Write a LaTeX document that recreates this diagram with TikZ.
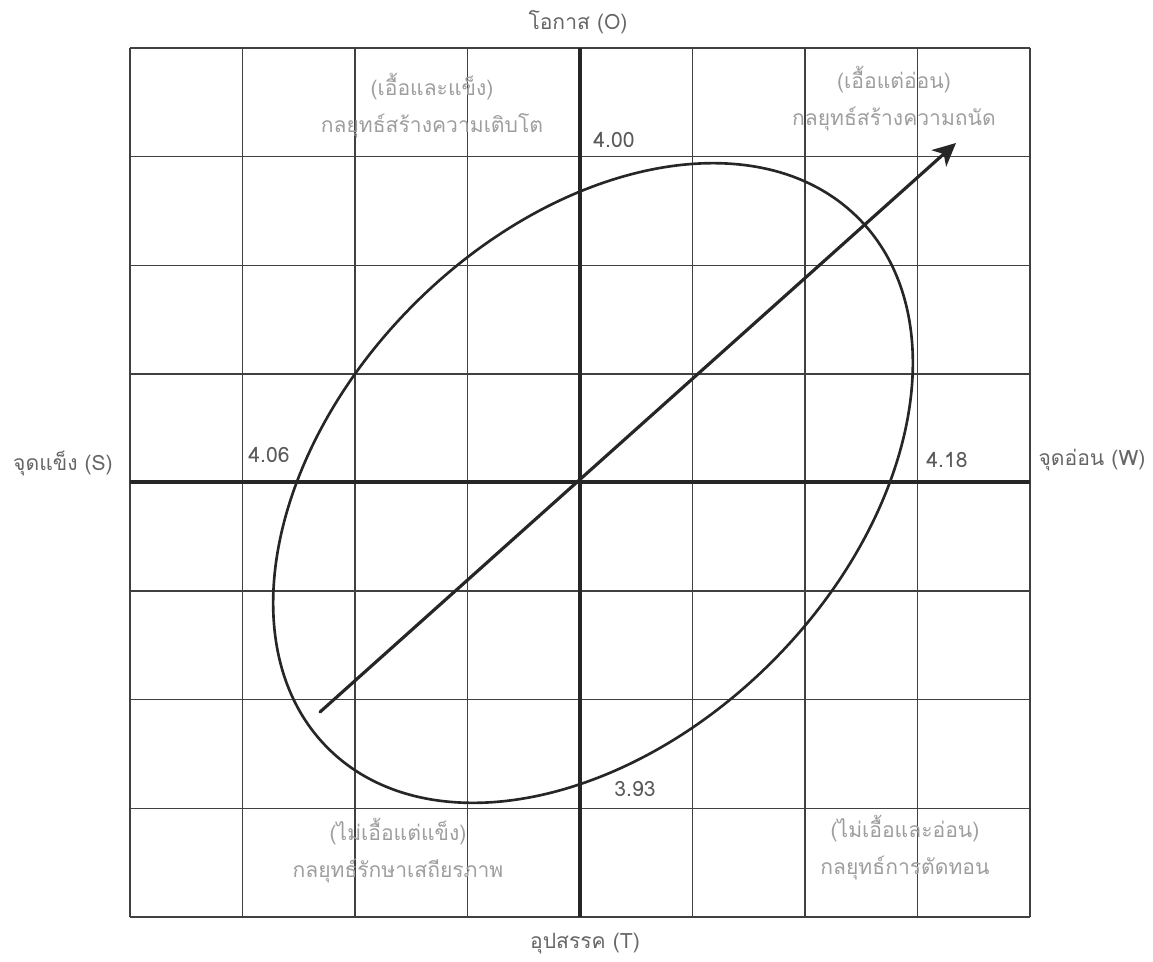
\documentclass[tikz,border=0pt]{standalone}
\usepackage{fontspec}
\setmainfont{Loma}[Script=Thai]
\usetikzlibrary{arrows.meta}

\begin{document}
\begin{tikzpicture}[
    x=0.02cm, y=-0.02cm,
    % --- Styles ---
    grid line/.style={draw=black!75, line width=0.8pt},
    % Thick axes through the middle
    axis line/.style={draw=black!85, line width=2.2pt},
    axis label/.style={font=\fontsize{12}{14}\selectfont, text=black!60, anchor=center},
    % Light grey strategy texts
    quad label/.style={font=\fontsize{12}{21}\selectfont, text=black!38, align=center, anchor=center},
    value label/.style={font=\fontsize{12}{14}\selectfont, text=black!65, anchor=center},
    curve line/.style={draw=black!85, line width=1.5pt},
    trend arrow/.style={draw=black!85, line width=1.8pt, line cap=round,
        -{Stealth[length=0.46cm, width=0.44cm, inset=0.13cm]}}
]

%================CONFIGURATION================
\def\ncells{8}

% Grid geometry (pixels of the page)
% \gx, \gy: top left corner
% \cw, \ch: cell width and height
\def\gx{130}
\def\gy{48}
\def\cw{112.5}
\def\ch{108.6}
%=============================================

\useasboundingbox (0,0) rectangle (1153,961);

% --- 1. Grid ---
\foreach \i in {0,...,\ncells} {
    \pgfmathsetmacro{\xLine}{\gx + \i*\cw}
    \pgfmathsetmacro{\yLine}{\gy + \i*\ch}
    \draw[grid line] (\xLine, \gy) -- (\xLine, \gy + \ncells*\ch);
    \draw[grid line] (\gx, \yLine) -- (\gx + \ncells*\cw, \yLine);
}

% --- 2. Axes ---
\coordinate (Top)    at (\gx + 4*\cw, \gy);
\coordinate (Bottom) at (\gx + 4*\cw, \gy + 8*\ch);
\coordinate (Left)   at (\gx, \gy + 4*\ch);
\coordinate (Right)  at (\gx + 8*\cw, \gy + 4*\ch);
\coordinate (Mid)    at (\gx + 4*\cw, \gy + 4*\ch);

\draw[axis line] (Top) -- (Bottom);
\draw[axis line] (Left) -- (Right);

\node[axis label] (O) at (578, 22)  {โอกาส (O)};
\node[axis label] (T) at (585, 944) {อุปสรรค (T)};
\node[axis label] (S) at (63, 463)  {จุดแข็ง (S)};
\node[axis label] (W) at (1092, 460) {จุดอ่อน (W)};

% --- 3. Quadrant strategies ---
\node[quad label] (QSO) at (432, 106) {(เอื้อและแข็ง)\\กลยุทธ์สร้างความเติบโต};
\node[quad label] (QWO) at (894, 99)  {(เอื้อแต่อ่อน)\\กลยุทธ์สร้างความถนัด};
\node[quad label] (QST) at (398, 851) {(ไม่เอื้อแต่แข็ง)\\กลยุทธ์รักษาเสถียรภาพ};
\node[quad label] (QWT) at (905, 848) {(ไม่เอื้อและอ่อน)\\กลยุทธ์การตัดทอน};

% --- 4. Scores ---
\node[value label] (vO) at (614, 140) {4.00};
\node[value label] (vS) at (269, 455) {4.06};
\node[value label] (vW) at (947, 460) {4.18};
\node[value label] (vT) at (635, 789) {3.93};

% --- 5. Ellipse and direction ---
\coordinate (EC) at (593, 483);
\draw[curve line, rotate around={45:(EC)}] (EC) ellipse [x radius=7.5cm, y radius=5.06cm];

\coordinate (AStart) at (320, 712);
\coordinate (AEnd)   at (956, 143);
\draw[trend arrow] (AStart) -- (AEnd);

\end{tikzpicture}
\end{document}
